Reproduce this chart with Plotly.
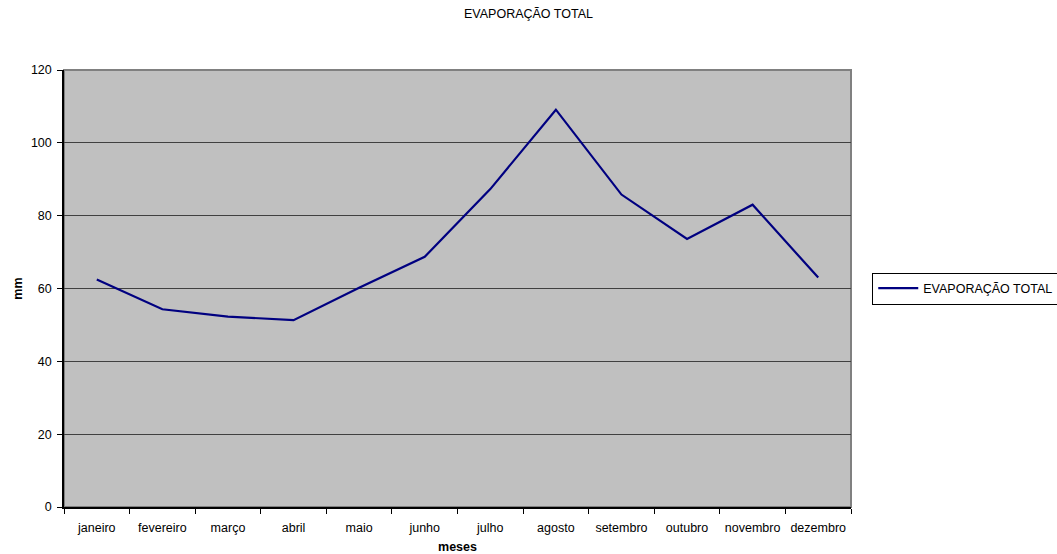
import plotly.graph_objects as go

meses = ["janeiro", "fevereiro", "março", "abril", "maio", "junho",
         "julho", "agosto", "setembro", "outubro", "novembro", "dezembro"]
evaporacao = [62.5, 54.3, 52.3, 51.3, 60.2, 68.7, 87.3, 109.1, 85.8, 73.6, 83.0, 63.0]
y_ticks = [0, 20, 40, 60, 80, 100, 120]

FONT = "Liberation Sans, Arial, sans-serif"
FS = 12.5

fig = go.Figure()
fig.add_trace(go.Scatter(
    x=meses, y=evaporacao, mode="lines", name="EVAPORAÇÃO TOTAL",
    line=dict(color="#000080", width=2.2),
))

fig.update_layout(
    width=1057, height=554,
    margin=dict(l=64, r=206, t=70, b=47, autoexpand=False),
    paper_bgcolor="white", plot_bgcolor="#C0C0C0",
    font=dict(family=FONT, size=FS, color="black"),
    title=dict(text="EVAPORAÇÃO TOTAL", x=0.5, xanchor="center", y=0.983, yanchor="top",
               font=dict(family=FONT, size=FS, color="black")),
    showlegend=True,
    legend=dict(x=1.027, y=0.5, xanchor="left", yanchor="middle",
                bordercolor="black", borderwidth=1, bgcolor="white",
                font=dict(family=FONT, size=FS, color="black"),
                itemwidth=40),
    shapes=[dict(type="rect", xref="paper", yref="paper", x0=0, x1=1, y0=0, y1=1,
                 line=dict(color="#808080", width=2), layer="below")],
)

fig.update_xaxes(
    type="category", range=[-0.5, 11.5], showline=True, linecolor="black", linewidth=1.5,
    ticks="outside", ticklen=5, tickcolor="black", tickson="boundaries",
    showgrid=False, tickfont=dict(family=FONT, size=FS, color="black"),
    tickangle=0, automargin=False, ticklabelstandoff=8,
    title=dict(text="<b>meses</b>", font=dict(family=FONT, size=FS, color="black"), standoff=9),
)
fig.update_yaxes(
    range=[0, 120], tickvals=y_ticks, showline=True, linecolor="black", linewidth=1.5,
    ticks="outside", ticklen=5, tickcolor="black",
    showgrid=True, gridcolor="#404040", gridwidth=1, zeroline=False,
    tickfont=dict(family=FONT, size=FS, color="black"),
    automargin=False, ticklabelstandoff=3,
    title=dict(text="<b>mm</b>", font=dict(family=FONT, size=FS, color="black"), standoff=6),
)

fig.write_html("out.html")
